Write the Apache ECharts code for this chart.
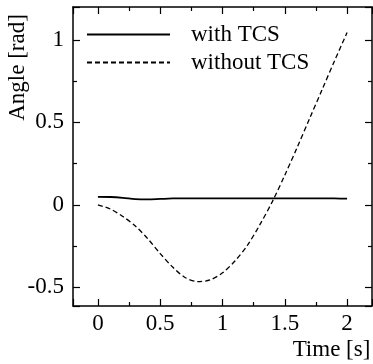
<!DOCTYPE html>
<html>
<head>
<meta charset="utf-8">
<script src="https://cdn.jsdelivr.net/npm/echarts@6/dist/echarts.min.js"></script>
<style>
  html, body { margin: 0; padding: 0; background: #fff; }
  #chart { width: 373px; height: 364px; }
</style>
</head>
<body>
<div id="chart"></div>
<script>
// time axis in seconds, sampled every 0.1 s
const timeValues = [0, 0.1, 0.2, 0.3, 0.4, 0.5, 0.6, 0.7, 0.8, 0.9, 1.0,
    1.1, 1.2, 1.3, 1.4, 1.5, 1.6, 1.7, 1.8, 1.9, 2.0];
// angle [rad] with traction control
const withTcs = [0.049, 0.048, 0.043, 0.035, 0.033, 0.036, 0.039, 0.040, 0.040, 0.039, 0.039,
    0.039, 0.040, 0.040, 0.040, 0.039, 0.039, 0.039, 0.040, 0.039, 0.038];
// angle [rad] without traction control
const withoutTcs = [0, -0.025, -0.07, -0.128, -0.205, -0.295, -0.377, -0.44, -0.465, -0.455, -0.412,
    -0.34, -0.245, -0.12, 0.02, 0.18, 0.35, 0.525, 0.70, 0.875, 1.045];
const seriesNames = ['with TCS', 'without TCS'];

const font = 'Liberation Serif';
const xRange = [-0.2, 2.2];
const yRange = [-0.613, 1.2];

const chart = echarts.init(document.getElementById('chart'));

const pairs = (ys) => timeValues.map((t, i) => [t, ys[i]]);

// shared look for the four frame axes (ticks point inward)
const frameAxis = (extra) => Object.assign({
    type: 'value',
    splitNumber: 4,
    axisLine: { show: true, onZero: false, lineStyle: { color: '#000', width: 1.5 } },
    axisTick: { show: true, inside: true, length: 7, lineStyle: { color: '#000', width: 1.2 } },
    minorTick: { show: true, splitNumber: 2, length: 4, lineStyle: { color: '#000', width: 1.2 } },
    splitLine: { show: false },
    minorSplitLine: { show: false }
}, extra);

const option = {
    animation: false,
    backgroundColor: '#fff',
    grid: {
        left: 73,
        right: 1,
        top: 7,
        bottom: 58,
        outerBoundsMode: 'none'
    },
    legend: {
        data: seriesNames,
        orient: 'vertical',
        left: 86,
        top: 23,
        padding: 0,
        itemWidth: 83,
        itemHeight: 14,
        itemGap: 5,
        itemStyle: { opacity: 0 },
        textStyle: {
            fontFamily: font,
            fontSize: 23,
            color: '#000',
            padding: [0, 0, 0, 16]
        }
    },
    xAxis: [
        frameAxis({
            position: 'bottom',
            min: xRange[0],
            max: xRange[1],
            name: 'Time [s]',
            nameLocation: 'middle',
            nameGap: 32,
            nameMoveOverlap: false,
            nameTextStyle: {
                fontFamily: font, fontSize: 23, color: '#000',
                padding: [0, 0, 0, 218]
            },
            axisLabel: {
                fontFamily: font, fontSize: 23, color: '#000', margin: 6,
                showMinLabel: false, showMaxLabel: false
            }
        }),
        frameAxis({
            position: 'top',
            min: xRange[0],
            max: xRange[1],
            axisLabel: { show: false }
        })
    ],
    yAxis: [
        frameAxis({
            position: 'left',
            min: yRange[0],
            max: yRange[1],
            name: 'Angle [rad]',
            nameLocation: 'middle',
            nameRotate: 90,
            nameGap: 44,
            nameMoveOverlap: false,
            nameTextStyle: {
                fontFamily: font, fontSize: 23, color: '#000',
                padding: [0, 0, 0, 178]
            },
            axisLabel: {
                fontFamily: font, fontSize: 23, color: '#000', margin: 9,
                showMinLabel: false, showMaxLabel: false
            }
        }),
        frameAxis({
            position: 'right',
            min: yRange[0],
            max: yRange[1],
            axisLabel: { show: false }
        })
    ],
    series: [
        {
            name: seriesNames[0],
            type: 'line',
            data: pairs(withTcs),
            smooth: 0.3,
            symbol: 'none',
            lineStyle: { color: '#000', width: 1.8, type: 'solid' }
        },
        {
            name: seriesNames[1],
            type: 'line',
            data: pairs(withoutTcs),
            smooth: 0.3,
            symbol: 'none',
            lineStyle: { color: '#000', width: 1.3, type: [5, 3] }
        }
    ]
};

chart.setOption(option);
</script>
</body>
</html>
